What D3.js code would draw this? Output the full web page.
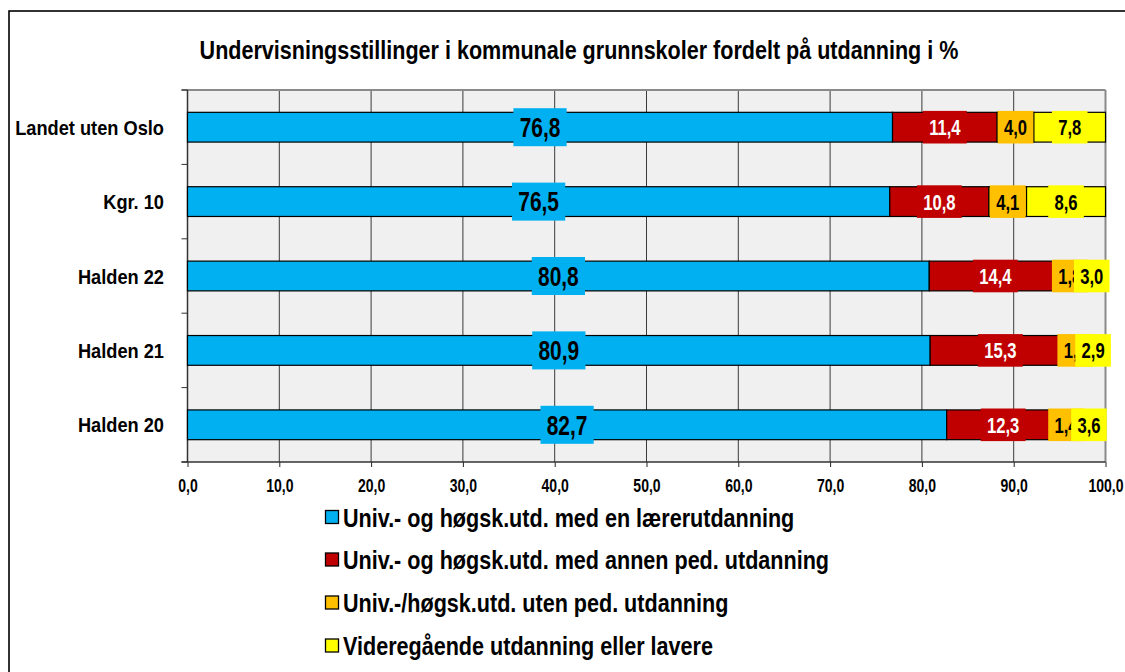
<!DOCTYPE html>
<html>
<head>
<meta charset="utf-8">
<script src="https://cdn.jsdelivr.net/npm/d3@7"></script>
<style>
  body { margin: 0; background: #fff; }
  svg { display: block; }
  text { font-family: "Liberation Sans", Arial, sans-serif; font-weight: bold; }
</style>
</head>
<body>
<svg id="chart" width="1125" height="672"></svg>
<script>
// Undervisningsstillinger i kommunale grunnskoler, andel etter utdanning (%)
const categories = ["Landet uten Oslo", "Kgr. 10", "Halden 22", "Halden 21", "Halden 20"];
const seriesNames = [
  "Univ.- og høgsk.utd. med en lærerutdanning",
  "Univ.- og høgsk.utd. med annen ped. utdanning",
  "Univ.-/høgsk.utd. uten ped. utdanning",
  "Videregående utdanning eller lavere"
];
const laererutdanning = [76.8, 76.5, 80.8, 80.9, 82.7];
const annenPed       = [11.4, 10.8, 14.4, 15.3, 12.3];
const utenPed        = [4.0, 4.1, 1.8, 1.0, 1.4];
const videregaende   = [7.8, 8.6, 3.0, 2.9, 3.6];
const xTicks = [0, 10, 20, 30, 40, 50, 60, 70, 80, 90, 100];
const title = "Undervisningsstillinger i kommunale grunnskoler fordelt på utdanning i %";

const colors = ["#00B0F0", "#C00000", "#FFC000", "#FFFF00"];
const labelColors = ["#000", "#fff", "#000", "#000"];

const keys = ["s0", "s1", "s2", "s3"];
const rows = categories.map((c, i) => ({
  cat: c, s0: laererutdanning[i], s1: annenPed[i], s2: utenPed[i], s3: videregaende[i]
}));
const stacked = d3.stack().keys(keys)(rows);

const svg = d3.select("#chart");
const fmt = v => d3.format(".1f")(v).replace(".", ",");

// condensed bold text: a horizontally compressed sans-serif
function addText(sel, { x, y, text, size, sx, anchor = "start", fill = "#000" }) {
  return sel.append("text")
    .attr("transform", `translate(${x},${y}) scale(${sx},1)`)
    .attr("text-anchor", anchor).attr("dy", "0.36em")
    .attr("font-size", size).attr("fill", fill).text(text);
}

const plot = { left: 187.5, right: 1105.5, top: 90, bottom: 462 };
const x = d3.scaleLinear().domain([0, 100]).range([plot.left, plot.right]);
const y = d3.scaleBand().domain(categories).range([plot.top, plot.bottom])
  .paddingInner(0.6).paddingOuter(0.3);

// outer frame
svg.append("rect").attr("x", 9).attr("y", 11).attr("width", 1300).attr("height", 800)
  .attr("fill", "none").attr("stroke", "#000").attr("stroke-width", 1.6);

// title
addText(svg, { x: 579, y: 50, text: title, size: 25, sx: 0.862, anchor: "middle" });

// plot background
svg.append("rect").attr("x", plot.left).attr("y", plot.top)
  .attr("width", plot.right - plot.left).attr("height", plot.bottom - plot.top)
  .attr("fill", "#F0F0F0");

// vertical gridlines
svg.append("g").selectAll("line").data(xTicks.filter(d => d > 0 && d < 100)).join("line")
  .attr("x1", d => x(d)).attr("x2", d => x(d))
  .attr("y1", plot.top).attr("y2", plot.bottom)
  .attr("stroke", "#3a3a3a").attr("stroke-width", 1);

// top and right frame of the plot area
svg.append("line").attr("x1", plot.left - 6).attr("x2", plot.right)
  .attr("y1", plot.top).attr("y2", plot.top).attr("stroke", "#8a8a8a").attr("stroke-width", 2);
svg.append("line").attr("x1", plot.right).attr("x2", plot.right)
  .attr("y1", plot.top).attr("y2", plot.bottom).attr("stroke", "#8a8a8a").attr("stroke-width", 2);

// x axis
const xAxis = d3.axisBottom(x).tickValues(xTicks).tickFormat(fmt)
  .tickSizeInner(5).tickSizeOuter(0).tickPadding(12);
const gx = svg.append("g").attr("transform", `translate(0,${plot.bottom})`).call(xAxis);
gx.select(".domain").remove();
gx.selectAll(".tick line").attr("stroke", "#222");
gx.selectAll(".tick text").attr("font-size", 18).attr("fill", "#000")
  .attr("transform", "scale(0.78,1)")
  .style("font-family", null);
gx.attr("font-family", null);
svg.append("line").attr("x1", plot.left - 6).attr("x2", plot.right)
  .attr("y1", plot.bottom).attr("y2", plot.bottom).attr("stroke", "#333").attr("stroke-width", 1.5);

// y axis with ticks between categories
svg.append("line").attr("x1", plot.left).attr("x2", plot.left)
  .attr("y1", plot.top).attr("y2", plot.bottom).attr("stroke", "#333").attr("stroke-width", 1.5);
const boundaries = categories.map(c => y(c) + y.bandwidth() / 2 - y.step() / 2);
boundaries.push(plot.bottom);
svg.append("g").selectAll("line").data(boundaries).join("line")
  .attr("x1", plot.left - 6).attr("x2", plot.left)
  .attr("y1", d => d).attr("y2", d => d)
  .attr("stroke", "#333").attr("stroke-width", 1);

// category labels
const catG = svg.append("g");
categories.forEach(c => {
  addText(catG, { x: 164, y: y(c) + y.bandwidth() / 2, text: c, size: 21, sx: 0.868, anchor: "end" });
});

// stacked bars
const bars = svg.append("g");
stacked.forEach((layer, si) => {
  bars.append("g").selectAll("rect").data(layer).join("rect")
    .attr("x", d => x(d[0])).attr("width", d => x(d[1]) - x(d[0]))
    .attr("y", d => y(d.data.cat)).attr("height", y.bandwidth())
    .attr("fill", colors[si]).attr("stroke", "#000").attr("stroke-width", 1.2);
});

// value labels in coloured boxes, drawn series by series
const labelLayer = svg.append("g");
stacked.forEach((layer, si) => {
  const fs = si === 0 ? 27 : 22;
  const sx = si === 0 ? 0.775 : 0.755;
  const boxH = si === 0 ? 38 : 32.6;
  layer.forEach(d => {
    const cx = (x(d[0]) + x(d[1])) / 2;
    const cy = y(d.data.cat) + y.bandwidth() / 2;
    const g = labelLayer.append("g");
    const box = g.append("rect").attr("fill", colors[si]);
    const t = addText(g, { x: cx, y: cy, text: fmt(d[1] - d[0]), size: fs, sx, anchor: "middle", fill: labelColors[si] });
    const w = t.node().getComputedTextLength() * sx + 12.5;
    box.attr("x", cx - w / 2).attr("y", cy - boxH / 2).attr("width", w).attr("height", boxH);
  });
});

// legend
const legend = svg.append("g");
const legendY = [517.5, 560, 603, 646];
seriesNames.forEach((name, i) => {
  legend.append("rect").attr("x", 325.5).attr("y", legendY[i] - 7).attr("width", 13).attr("height", 13)
    .attr("fill", colors[i]).attr("stroke", "#000").attr("stroke-width", 1.3);
  addText(legend, { x: 343, y: legendY[i], text: name, size: 26, sx: 0.83 });
});
</script>
</body>
</html>
